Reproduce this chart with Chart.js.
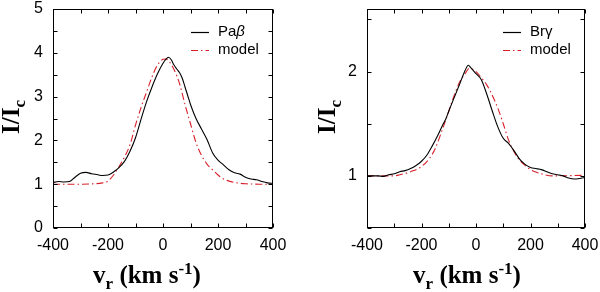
<!DOCTYPE html>
<html><head><meta charset="utf-8">
<script src="https://cdn.jsdelivr.net/npm/chart.js@4"></script>
<style>
html,body{margin:0;padding:0;background:#fff;}
#wrap{position:relative;width:600px;height:292px;}
.panel{position:absolute;top:0;width:300px;height:292px;}
</style></head><body>
<div id="wrap">
<div class="panel" style="left:0"><canvas id="c1" width="300" height="292"></canvas></div>
<div class="panel" style="left:300px"><canvas id="c2" width="300" height="292"></canvas></div>
</div>
<script>
// ---- data ----
const vPa = [-400,-380,-360,-340,-320,-300,-280,-260,-240,-220,-200,-180,-160,-140,-120,-100,-80,-60,-40,-20,0,10,20,30,40,50,60,70,80,90,100,120,140,160,180,200,220,240,260,280,300,320,340,360,380,400];
const paObs = [1.04,1.06,1.05,1.06,1.16,1.25,1.27,1.24,1.22,1.20,1.21,1.28,1.38,1.52,1.75,2.06,2.48,2.88,3.22,3.52,3.76,3.85,3.90,3.84,3.72,3.63,3.55,3.42,3.22,3.02,2.82,2.50,2.26,2.02,1.72,1.55,1.44,1.33,1.26,1.23,1.16,1.12,1.10,1.06,1.03,1.02];
const vPaModel = [-400,-350,-300,-250,-220,-200,-180,-160,-140,-120,-100,-80,-60,-40,-20,0,10,20,40,60,80,100,120,140,160,180,200,220,240,260,280,300,350,400];
const paModel = [1.00,1.00,1.00,1.01,1.03,1.07,1.21,1.40,1.62,1.90,2.35,2.75,3.10,3.45,3.72,3.85,3.86,3.82,3.62,3.30,2.82,2.38,1.95,1.66,1.46,1.33,1.21,1.12,1.07,1.04,1.02,1.01,1.00,1.00];

const vBr = [-400,-380,-360,-340,-320,-300,-280,-260,-240,-220,-200,-180,-160,-140,-120,-110,-100,-80,-60,-40,-28,-20,0,20,40,60,80,100,120,140,160,180,200,220,240,260,280,300,320,340,360,380,400];
const brObs = [1.00,1.00,1.00,0.995,1.01,1.02,1.04,1.05,1.07,1.10,1.14,1.20,1.29,1.39,1.50,1.55,1.62,1.75,1.88,2.01,2.06,2.04,1.98,1.92,1.78,1.62,1.47,1.36,1.31,1.24,1.16,1.11,1.08,1.07,1.06,1.04,1.02,1.01,1.00,0.98,0.97,0.975,0.985];
const vBrModel = [-400,-340,-300,-280,-240,-200,-170,-150,-120,-100,-80,-60,-40,-25,-10,0,20,40,60,80,100,120,140,160,180,200,240,280,400];
const brModel = [1.00,1.00,1.00,1.01,1.04,1.09,1.17,1.26,1.47,1.62,1.77,1.90,1.98,2.03,2.02,2.00,1.94,1.87,1.77,1.65,1.50,1.34,1.23,1.15,1.10,1.06,1.02,1.00,1.005];

const xLabelTicks = [-400,-200,0,200,400];
const xMarkTicks = [-400,-300,-200,-100,0,100,200,300,400];
const paYLabelTicks = [0,1,2,3,4,5];
const paYMarkTicks = [0,0.5,1,1.5,2,2.5,3,3.5,4,4.5,5];
const brYLabelTicks = [1,2];
const brYMarkTicks = [0.5,1,1.5,2,2.5];

const pts = (xs, ys) => xs.map((x,i)=>({x:x, y:ys[i]}));

// ---- plugins ----
const frameTicks = {
  id:'frameTicks',
  afterDraw(chart, args, o){
    const {ctx, chartArea:a, scales:{x,y}} = chart;
    const L=Math.round(a.left)+0.5, R=Math.round(a.right)-0.5, T=Math.round(a.top)+0.5, B=Math.round(a.bottom)-0.5;
    ctx.save();
    ctx.strokeStyle='#000'; ctx.lineWidth=1; ctx.setLineDash([]);
    ctx.strokeRect(L,T,R-L,B-T);
    const len=4;
    ctx.beginPath();
    o.xMarks.forEach(v=>{
      const p=Math.round(x.getPixelForValue(v))+0.5;
      ctx.moveTo(p,B); ctx.lineTo(p,B-len);
      ctx.moveTo(p,T); ctx.lineTo(p,T+len);
    });
    o.yMarks.forEach(v=>{
      const p=Math.round(y.getPixelForValue(v))+0.5;
      ctx.moveTo(L,p); ctx.lineTo(L+len,p);
      ctx.moveTo(R,p); ctx.lineTo(R-len,p);
    });
    ctx.stroke();
    ctx.restore();
  }
};

function drawRich(ctx, parts, size, family, x, y, align){
  const segs = parts.map(p=>{
    const s = (p.sub||p.sup) ? Math.round(size*0.68) : size;
    ctx.font = 'bold '+s+'px '+family;
    return {t:p.t, s:s, w:ctx.measureText(p.t).width, dy: p.sub ? size*0.22 : (p.sup ? -size*0.38 : 0)};
  });
  const total = segs.reduce((a,b)=>a+b.w,0);
  let cx = align==='center' ? x-total/2 : x;
  segs.forEach(sg=>{
    ctx.font = 'bold '+sg.s+'px '+family;
    ctx.fillText(sg.t, cx, y+sg.dy);
    cx += sg.w;
  });
}

const titles = {
  id:'titles',
  afterDraw(chart, args, o){
    const {ctx, chartArea:a} = chart;
    ctx.save();
    ctx.fillStyle='#000'; ctx.textBaseline='alphabetic'; ctx.textAlign='left';
    const fam = '"Liberation Serif","Times New Roman",serif';
    const cx = (a.left+a.right)/2 + o.xShift;
    drawRich(ctx, [{t:'v'},{t:'r',sub:true},{t:' (km s'},{t:'-1',sup:true},{t:')'}], 25, fam, cx, 283, 'center');
    ctx.translate(o.yTitleX, 117);
    ctx.rotate(-Math.PI/2);
    drawRich(ctx, [{t:'I/I'},{t:'c',sub:true}], 25, fam, 0, 0, 'center');
    ctx.restore();
  }
};

const legendBox = {
  id:'legendBox',
  afterDraw(chart){
    const {ctx, chartArea:a} = chart;
    ctx.save();
    chart.data.datasets.forEach((ds,i)=>{
      const yy = a.top + 23 + i*18;
      ctx.strokeStyle = ds.borderColor; ctx.lineWidth = 1.2;
      ctx.setLineDash(ds.borderDash || []);
      ctx.beginPath(); ctx.moveTo(a.right-82, yy+0.5); ctx.lineTo(a.right-64, yy+0.5); ctx.stroke();
      ctx.setLineDash([]);
      ctx.fillStyle='#000'; ctx.textBaseline='middle'; ctx.textAlign='left';
      let tx = a.right-55;
      ds.label.split(/([\u03b1-\u03c9])/).filter(s=>s.length).forEach(s=>{
        const ital = s === '\u03b2';
        ctx.font = (ital?'italic ':'')+'15px "Liberation Sans",Arial,sans-serif';
        ctx.fillText(s, tx, yy);
        tx += ctx.measureText(s).width;
      });
    });
    ctx.restore();
  }
};

function makeChart(id, obsLabel, xo, yo, xm, ym, yMin, yMax, yLabels, yMarks, yTitleX, xShift, dims){
  const lineCommon = {pointRadius:0, fill:false, cubicInterpolationMode:'monotone'};
  return new Chart(document.getElementById(id), {
    type:'line',
    data:{datasets:[
      Object.assign({label:obsLabel, data:pts(xo,yo), borderColor:'#000000', borderWidth:1.1}, lineCommon),
      Object.assign({label:'model', data:pts(xm,ym), borderColor:'#d8202a', borderWidth:1.1, borderDash:[7,3,1.5,3]}, lineCommon)
    ]},
    options:{
      responsive:false, animation:false, devicePixelRatio:1,
      layout:{padding:{top:9, right:dims.right, bottom:0, left:0}},
      plugins:{legend:{display:false}, tooltip:{enabled:false},
        frameTicks:{xMarks:xMarkTicks, yMarks:yMarks},
        titles:{yTitleX:yTitleX, xShift:xShift}},
      scales:{
        x:{type:'linear', min:-400, max:400,
          grid:{display:false, drawTicks:false}, border:{display:false},
          afterBuildTicks:s=>{s.ticks = xLabelTicks.map(v=>({value:v}));},
          afterFit:s=>{s.height = 64; s.paddingLeft = 0; s.paddingRight = 0;},
          ticks:{padding:8, color:'#000', maxRotation:0, autoSkip:false,
            font:{family:'"Liberation Sans",Arial,sans-serif', size:16}}},
        y:{type:'linear', min:yMin, max:yMax,
          grid:{display:false, drawTicks:false}, border:{display:false},
          afterBuildTicks:s=>{s.ticks = yLabels.map(v=>({value:v}));},
          afterFit:s=>{s.width = dims.left; s.paddingTop = 0; s.paddingBottom = 0;},
          ticks:{padding:10, color:'#000', autoSkip:false,
            font:{family:'"Liberation Sans",Arial,sans-serif', size:16}}}
      }
    },
    plugins:[frameTicks, titles, legendBox]
  });
}

makeChart('c1','Pa\u03b2', vPa, paObs, vPaModel, paModel, 0, 5, paYLabelTicks, paYMarkTicks, 19, -16, {left:53, right:27});
makeChart('c2','Br\u03b3', vBr, brObs, vBrModel, brModel, 0.5, 2.6, brYLabelTicks, brYMarkTicks, 35, -9, {left:67, right:15});
</script>
</body></html>
